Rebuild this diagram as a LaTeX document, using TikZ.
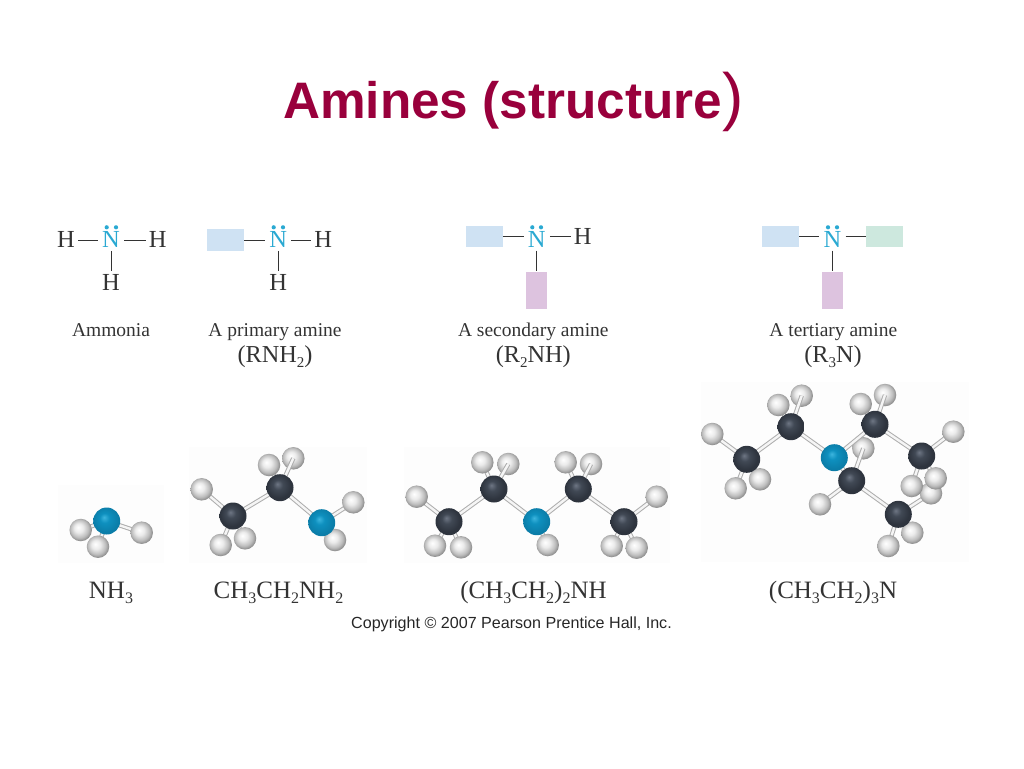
\documentclass[tikz,border=0pt]{standalone}
\usepackage{fontspec}
\setmainfont{Liberation Serif}
\newfontfamily\slidefont{Liberation Sans}
\definecolor{titlered}{HTML}{99003C}
\definecolor{nitrocyan}{HTML}{2AA9D2}
\definecolor{inkgrey}{HTML}{333333}
\definecolor{rblue}{HTML}{CFE2F3}
\definecolor{rgreen}{HTML}{CDE8DE}
\definecolor{rpink}{HTML}{DDC3DF}
\definecolor{photogrey}{HTML}{FDFDFD}
\definecolor{nball0}{HTML}{3DB5DE}
\definecolor{nball1}{HTML}{0E90BF}
\definecolor{nball2}{HTML}{0B7DA8}
\definecolor{cball0}{HTML}{6E7684}
\definecolor{cball1}{HTML}{414955}
\definecolor{cball2}{HTML}{2E343E}
\newcommand{\subnum}[2][16]{\raisebox{-0.5ex}{\fontsize{#1}{#1}\selectfont #2}}
\pgfdeclareradialshading{hballs}{\pgfpoint{-6bp}{6bp}}{color(0bp)=(white); color(10bp)=(white!92!black); color(20bp)=(white!74!black); color(28bp)=(white!50!black); color(40bp)=(white!45!black)}
\pgfdeclareradialshading{cballs}{\pgfpoint{-5bp}{7bp}}{color(0bp)=(cball0); color(9bp)=(cball1); color(22bp)=(cball2); color(40bp)=(cball2)}
\pgfdeclareradialshading{nballs}{\pgfpoint{-5bp}{7bp}}{color(0bp)=(nball0); color(9bp)=(nball1); color(24bp)=(nball2); color(40bp)=(nball2)}
\pgfdeclarelayer{backatom}
\pgfdeclarelayer{bondlayer}
\pgfsetlayers{backatom,bondlayer,main}
\tikzset{
  lewis/.style={font=\fontsize{24.5}{24.5}\selectfont, text=inkgrey, inner xsep=3pt, inner ysep=4pt, text height=15.4pt, text depth=0pt},
  nitro/.style={lewis, text=nitrocyan, inner xsep=4pt, inner ysep=3pt},
  nitrolow/.style={nitro, text height=21.2pt},
  lonepair/.style={circle, fill=nitrocyan, inner sep=0pt, minimum size=4.2pt},
  rgroup/.style={inner sep=0pt, minimum width=36.7pt, minimum height=21.3pt},
  rtall/.style={inner sep=0pt, minimum width=21.3pt, minimum height=37.3pt, fill=rpink},
  lewisbond/.style={draw=inkgrey, line width=1pt},
  caption/.style={font=\fontsize{19.5}{19.5}\selectfont, text=inkgrey, anchor=base, inner sep=0pt},
  formula/.style={font=\fontsize{25}{25}\selectfont, text=inkgrey, anchor=base, inner sep=0pt},
  general/.style={formula, font=\fontsize{24.3}{24.3}\selectfont},
  photo/.style={fill=photogrey, draw=none, inner sep=0pt},
  atom/.style={circle, inner sep=0pt, draw=none},
  hatom/.style={atom, minimum size=22.5pt, shading=hballs},
  catom/.style={atom, minimum size=27pt, shading=cballs},
  natom/.style={atom, minimum size=27pt, shading=nballs},
  stick/.style={draw=black!32, double=black!4, double distance=2.4pt, line width=1pt},
}
\begin{document}
\begin{tikzpicture}[x=1pt,y=-1pt]
  \useasboundingbox (0,0) rectangle (1024,768);
  \node[anchor=base west, inner sep=0pt, text=titlered, font=\slidefont\bfseries\fontsize{51.3}{51.3}\selectfont] (title) at (283,118) {Amines (structure};
  \node[anchor=base west, inner sep=0pt, text=titlered, font=\slidefont\fontsize{64}{64}\selectfont] (titleparen) at (title.base east) {)};

  % lewis structures
  \node[lewis] (h1) at (66,240) {H};
  \node[nitro] (n1) at (111,240) {N};
  \node[lewis] (h2) at (157.7,240) {H};
  \node[lewis] (h3) at (111,283) {H};
  \node[lonepair] (d1a) at (106.7,227.3) {};
  \node[lonepair] (d1b) at (116,227.3) {};
  \draw[lewisbond] (h1)--(n1) (n1)--(h2) (n1)--(h3);

  \node[rgroup, fill=rblue] (r2) at (225.7,240) {};
  \node[nitro] (n2) at (278.3,240) {N};
  \node[lewis] (h4) at (323.3,240) {H};
  \node[lewis] (h5) at (278.3,283) {H};
  \node[lonepair] (d2a) at (273.7,227.3) {};
  \node[lonepair] (d2b) at (283,227.3) {};
  \draw[lewisbond] (r2)--(n2) (n2)--(h4) (n2)--(h5);

  \node[rgroup, fill=rblue] (r3) at (484.3,236.7) {};
  \node[nitrolow] (n3) at (536.7,236.7) {N};
  \node[lewis] (h6) at (582.7,236.7) {H};
  \node[rtall] (r3b) at (536.7,290.3) {};
  \node[lonepair] (d3a) at (532.3,227.3) {};
  \node[lonepair] (d3b) at (541,227.3) {};
  \draw[lewisbond] (r3)--(n3) (n3)--(h6) (n3)--(r3b);

  \node[rgroup, fill=rblue] (r4) at (780.8,236.7) {};
  \node[nitrolow] (n4) at (832.5,236.7) {N};
  \node[rgroup, fill=rgreen] (r4c) at (884.3,236.7) {};
  \node[rtall] (r4b) at (832.5,290.3) {};
  \node[lonepair] (d4a) at (828,227.3) {};
  \node[lonepair] (d4b) at (837,227.3) {};
  \draw[lewisbond] (r4)--(n4) (n4)--(r4c) (n4)--(r4b);

  % captions
  \node[caption] (cap1) at (111,336.7) {Ammonia};
  \node[caption] (cap2) at (275,336.7) {A primary amine};
  \node[caption] (cap3) at (533.3,336.7) {A secondary amine};
  \node[caption] (cap4) at (833.3,336.7) {A tertiary amine};
  \node[general] (gen2) at (275,362) {(RNH\subnum[15]{2})};
  \node[general] (gen3) at (533.3,362) {(R\subnum[15]{2}NH)};
  \node[general] (gen4) at (833,362) {(R\subnum[15]{3}N)};

  % ball and stick models
  \begin{pgfonlayer}{backatom}
    \node[photo, minimum width=106pt, minimum height=78pt] (ph1) at (111,524) {};
    \node[photo, minimum width=178pt, minimum height=116pt] (ph2) at (278,505) {};
    \node[photo, minimum width=266pt, minimum height=116pt] (ph3) at (537,505) {};
    \node[photo, minimum width=268pt, minimum height=180pt] (ph4) at (835,472) {};
    \foreach \atomname/\xpos/\ypos in {eh4/293.3/458.3,dh5/508.3/464,dh8/591/464,
      th5/801.7/395.7,th7/885/395,th11/863.3/448.3}
      \node[hatom] (\atomname) at (\xpos,\ypos) {};
  \end{pgfonlayer}
  \foreach \atomname/\xpos/\ypos in {ah1/80.7/530,ah2/98/546.7,ah3/141.7/532.7,
    eh1/201.7/489.3,eh3/245/538.3,eh2/220.7/545,eh5/269/465,eh6/353.3/502.3,eh7/335/540,
    dh1/416.7/496.7,dh3/461/547.3,dh2/435/545.7,dh4/482.3/462.3,dh6/547.7/545,dh7/565.7/462.3,dh9/656.7/496.7,dh11/636.7/547.7,dh10/611.7/546,
    th1/712.3/434,th3/760/479.3,th2/735.7/488.3,th4/778.3/405,th6/860.7/404,th8/953.3/431.7,th13/931/493.3,th10/935.7/478.3,th9/911.7/486,th12/820/504.3,th15/912.3/532.7,th14/888.3/546}
    \node[hatom] (\atomname) at (\xpos,\ypos) {};
  \node[natom] (an) at (106.7,521) {};
  \node[catom] (ec1) at (233,516) {};
  \node[catom] (ec2) at (280,487.7) {};
  \node[natom] (en) at (321.7,522.7) {};
  \node[catom] (dc1) at (449,521.7) {};
  \node[catom] (dc2) at (494,489) {};
  \node[natom] (dn) at (536.7,521.7) {};
  \node[catom] (dc3) at (578.3,489) {};
  \node[catom] (dc4) at (624,521.7) {};
  \node[catom] (tc1) at (746.7,459.3) {};
  \node[catom] (tc2) at (791,426.7) {};
  \node[natom] (tn) at (834.3,457.7) {};
  \node[catom] (tc3) at (875,424.3) {};
  \node[catom] (tc4) at (921.7,456) {};
  \node[catom] (tc5) at (851.7,480.7) {};
  \node[catom] (tc6) at (898.3,514.3) {};
  \begin{pgfonlayer}{bondlayer}
    \foreach \atoma/\atomb in {an/ah1,an/ah2,an/ah3,
      ec1/ec2,ec2/en,ec1/eh1,ec1/eh2,ec1/eh3,ec2/eh4,ec2/eh5,en/eh6,en/eh7,
      dc1/dc2,dc2/dn,dn/dc3,dc3/dc4,dc1/dh1,dc1/dh2,dc1/dh3,dc2/dh4,dc2/dh5,dn/dh6,dc3/dh7,dc3/dh8,dc4/dh9,dc4/dh10,dc4/dh11,
      tc1/tc2,tc2/tn,tn/tc3,tc3/tc4,tn/tc5,tc5/tc6,tc1/th1,tc1/th2,tc1/th3,tc2/th4,tc2/th5,tc3/th6,tc3/th7,tc4/th8,tc4/th9,tc4/th10,tc5/th11,tc5/th12,tc6/th13,tc6/th14,tc6/th15}
      \draw[stick] (\atoma.center)--(\atomb.center);
  \end{pgfonlayer}

  % formulas
  \node[formula] (f1) at (111,598) {NH\subnum{3}};
  \node[formula] (f2) at (278.5,598) {CH\subnum{3}CH\subnum{2}NH\subnum{2}};
  \node[formula] (f3) at (533.5,598) {(CH\subnum{3}CH\subnum{2})\subnum{2}NH};
  \node[formula] (f4) at (833,598) {(CH\subnum{3}CH\subnum{2})\subnum{3}N};
  \node[anchor=base, inner sep=0pt, text=black!85, font=\slidefont\fontsize{16.1}{16.1}\selectfont] (copy) at (511.5,628) {Copyright © 2007 Pearson Prentice Hall, Inc.};
\end{tikzpicture}
\end{document}
